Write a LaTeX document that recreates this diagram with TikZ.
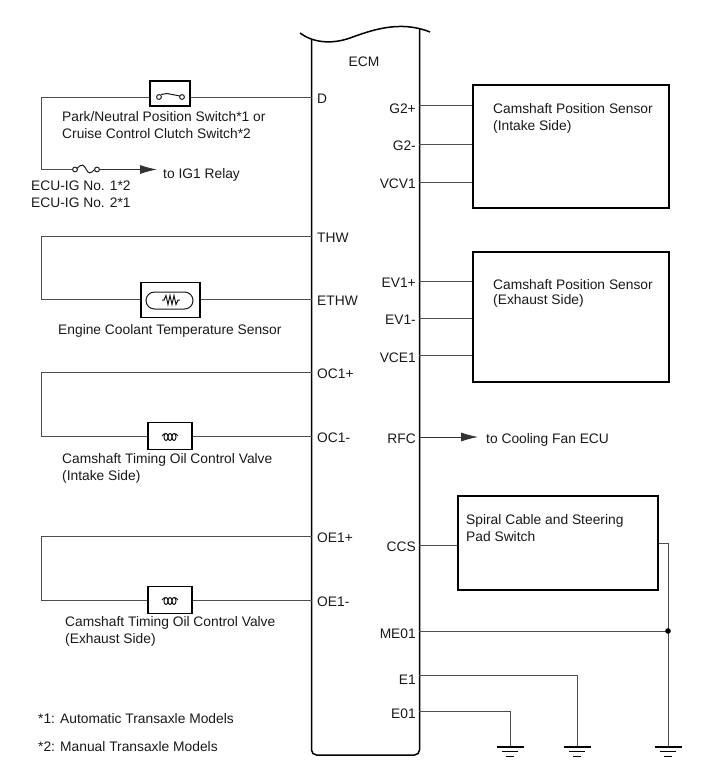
\documentclass[tikz,border=0pt]{standalone}
\usepackage{fontspec}
\setmainfont{Liberation Sans}
\usetikzlibrary{arrows.meta,positioning,calc}
\begin{document}
\begin{tikzpicture}[x=1pt,y=-1pt]
\tikzstyle{fil}=[draw=black!70,line width=0.8pt]
\tikzstyle{fleche}=[-{Latex[length=17pt,width=9pt]},draw=black!80,line width=0.8pt]
\tikzstyle{boite}=[draw=black,line width=1.4pt,fill=white,rectangle,inner sep=0pt]
\tikzstyle{texte}=[anchor=west,inner sep=0pt,yshift=-0.8pt,font=\fontsize{13.8}{16}\selectfont,text=black!90]
\tikzstyle{pinG}=[texte]
\tikzstyle{pinD}=[texte,anchor=east]
\tikzstyle{symbole}=[draw=black!90,line width=1pt]
\useasboundingbox (0,0) rectangle (713,782);
% calculateur
\draw[line width=1.5pt,rounded corners=5pt] (311.5,40) -- (311.5,755) -- (419.5,755) -- (419.5,28);
\draw[line width=1.5pt] (300,33) .. controls (312,42) and (330,45) .. (350,38) .. controls (372,30) and (400,20) .. (430,32);
\node[texte,anchor=center] (ECM) at (364,61) {ECM};
% broches gauche
\node[pinG] (D) at (317,98) {D};
\node[pinG] (THW) at (317,237) {THW};
\node[pinG] (ETHW) at (317,300) {ETHW};
\node[pinG] (OCa) at (317,373) {OC1+};
\node[pinG] (OCb) at (317,437) {OC1-};
\node[pinG] (OEa) at (317,537) {OE1+};
\node[pinG] (OEb) at (317,601) {OE1-};
% broches droite
\node[pinD] (Ga) at (416,108) {G2+};
\node[pinD] (Gb) at (416,145) {G2-};
\node[pinD] (VCV) at (416,183) {VCV1};
\node[pinD] (EVa) at (416,282) {EV1+};
\node[pinD] (EVb) at (416,319) {EV1-};
\node[pinD] (VCE) at (416,357) {VCE1};
\node[pinD] (RFC) at (416,438) {RFC};
\node[pinD] (CCS) at (416,546) {CCS};
\node[pinD] (ME) at (416,633) {ME01};
\node[pinD] (Ea) at (416,679) {E1};
\node[pinD] (Eb) at (416,713) {E01};
% boites
\node[boite,minimum width=40pt,minimum height=25pt] (Sw) at (170,93.5) {};
\node[boite,minimum width=59pt,minimum height=35pt] (Eau) at (170.5,300) {};
\node[boite,minimum width=44pt,minimum height=27pt] (ValA) at (170,436) {};
\node[boite,minimum width=44pt,minimum height=27pt] (ValB) at (170,600) {};
\node[boite,minimum width=196pt,minimum height=123pt] (CamA) at (571,146.5) {};
\node[boite,minimum width=196pt,minimum height=130pt] (CamB) at (571,317) {};
\node[boite,minimum width=200pt,minimum height=94pt] (Spi) at (558,543) {};
% points de passage
\coordinate (Dg) at (41,97);
\coordinate (Db) at (41,169.5);
\coordinate (Fa) at (75,169.5);
\coordinate (Fb) at (97,169.5);
\coordinate (Ig) at (157,169.5);
\coordinate (Tg) at (41,236);
\coordinate (Th) at (41,299);
\coordinate (Oa) at (41,372);
\coordinate (Ob) at (41,436);
\coordinate (Pa) at (41,536);
\coordinate (Pb) at (41,600);
\coordinate (EcD) at (312,97);
\coordinate (EcT) at (312,236);
\coordinate (EcE) at (312,299);
\coordinate (EcOa) at (312,372);
\coordinate (EcOb) at (312,436);
\coordinate (EcPa) at (312,536);
\coordinate (EcPb) at (312,600);
\coordinate (EcR) at (419,437);
\coordinate (Ar) at (478,437);
\coordinate (Jn) at (668,631);
\coordinate (Sc) at (668,543);
\coordinate (GndA) at (510,747);
\coordinate (GndB) at (577,747);
\coordinate (GndC) at (668,747);
\coordinate (EcM) at (419,631);
\coordinate (EcEa) at (419,675);
\coordinate (EcEb) at (419,711);
\coordinate (EcCC) at (419,545);
\coordinate (CaA) at (419,105);
\coordinate (CaB) at (419,144);
\coordinate (CaC) at (419,182);
\coordinate (CbA) at (419,281);
\coordinate (CbB) at (419,318);
\coordinate (CbC) at (419,355);
% liaisons
\draw[fil] (EcD) -- (EcD -| Sw.east);
\draw[fil] (Dg -| Sw.west) -- (Dg) -- (Db) -- (Fa);
\draw[fil] (Tg) -- (EcT);
\draw[fil] (Tg) -- (Th) -- (Th -| Eau.west);
\draw[fil] (Th -| Eau.east) -- (EcE);
\draw[fil] (EcOa) -- (Oa) -- (Ob) -- (Ob -| ValA.west);
\draw[fil] (Ob -| ValA.east) -- (EcOb);
\draw[fil] (EcPa) -- (Pa) -- (Pb) -- (Pb -| ValB.west);
\draw[fil] (Pb -| ValB.east) -- (EcPb);
\draw[fil] (CaA) -- (CaA -| CamA.west);
\draw[fil] (CaB) -- (CaB -| CamA.west);
\draw[fil] (CaC) -- (CaC -| CamA.west);
\draw[fil] (CbA) -- (CbA -| CamB.west);
\draw[fil] (CbB) -- (CbB -| CamB.west);
\draw[fil] (CbC) -- (CbC -| CamB.west);
\draw[fil] (EcCC) -- (EcCC -| Spi.west);
\draw[fil] (Sc -| Spi.east) -- (Sc) -- (GndC);
\draw[fil] (EcM) -- (Jn);
\draw[fil] (EcEa) -| (GndB);
\draw[fil] (EcEb) -| (GndA);
\draw[fleche] (Fb) -- (Ig);
\draw[fleche] (EcR) -- (Ar);
\fill (Jn) circle (2.8pt);
% masses
\foreach \g in {GndA,GndB,GndC} {
  \draw[line width=1.4pt] ($(\g)+(-13.5,0)$) -- ($(\g)+(13.5,0)$);
  \draw[line width=0.8pt] ($(\g)+(-8,4.5)$) -- ($(\g)+(8,4.5)$);
  \draw[line width=0.8pt] ($(\g)+(-4,9)$) -- ($(\g)+(4,9)$);
}
% contact
\draw[symbole] (159,97) circle (2.4pt);
\draw[symbole] (182,97) circle (2.4pt);
\draw[symbole] (161,94.5) -- (167,93.5) -- (180,96);
% fusible
\draw[symbole,fill=white] (Fa) circle (2.4pt);
\draw[symbole,fill=white] (Fb) circle (2.4pt);
\draw[symbole] (77,168.5) .. controls (82,163) and (84,165) .. (86,169) .. controls (88,174) and (91,174) .. (95,169);
% thermistance
\draw[symbole,rounded corners=8.5pt] (146,292) rectangle (193,309);
\draw[symbole] (162,300) -- (164,300) -- (166,295.5) -- (168,304.5) -- (170,295.5) -- (172,304.5) -- (174,295.5) -- (176,304.5) -- (178,300) -- (180,300);
% bobines
\foreach \b in {ValA,ValB} {
  \begin{scope}[shift={(\b.center)}]
    \draw[symbole] (-8,0) .. controls (-7,-1) and (-6,-2.5) .. (-4.5,-2.5);
    \draw[symbole] (4.5,-2.5) .. controls (6,-2.5) and (7,-1) .. (8,0);
    \foreach \c in {-4,0,4} \draw[symbole] (\c,1) ellipse (2pt and 3.6pt);
  \end{scope}
}
% textes
\node[texte] (tSwa) at (62,116) {Park/Neutral Position Switch*1 or};
\node[texte] (tSwb) at (62,133) {Cruise Control Clutch Switch*2};
\node[texte] (tFua) at (31,185) {ECU-IG No. 1*2};
\node[texte] (tFub) at (31,202) {ECU-IG No. 2*1};
\node[texte] (tIg) at (163,174) {to IG1 Relay};
\node[texte] (tEau) at (58,330) {Engine Coolant Temperature Sensor};
\node[texte] (tVaa) at (62,459) {Camshaft Timing Oil Control Valve};
\node[texte] (tVab) at (62,476) {(Intake Side)};
\node[texte] (tVba) at (65,622) {Camshaft Timing Oil Control Valve};
\node[texte] (tVbb) at (65,639) {(Exhaust Side)};
\node[texte] (tNa) at (38,718) {*1: Automatic Transaxle Models};
\node[texte] (tNb) at (38,746) {*2: Manual Transaxle Models};
\node[texte] (tCaa) at (493,108) {Camshaft Position Sensor};
\node[texte] (tCab) at (493,126) {(Intake Side)};
\node[texte] (tCba) at (493,284) {Camshaft Position Sensor};
\node[texte] (tCbb) at (493,300) {(Exhaust Side)};
\node[texte] (tFan) at (486,439) {to Cooling Fan ECU};
\node[texte] (tSpa) at (466,520) {Spiral Cable and Steering};
\node[texte] (tSpb) at (466,536) {Pad Switch};
\end{tikzpicture}
\end{document}
